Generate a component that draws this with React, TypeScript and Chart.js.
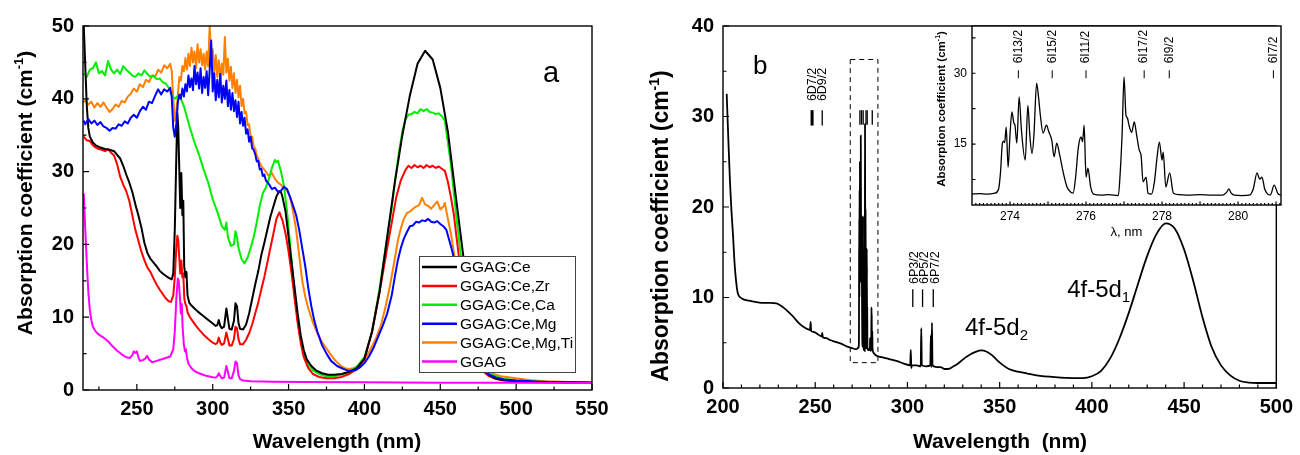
import React, { useEffect, useRef } from 'react';
import { Chart, registerables } from 'chart.js';
Chart.register(...registerables);

const FONT = '"Liberation Sans", Arial, Helvetica, sans-serif';

// ---------------- Panel a : absorption spectra ----------------
const aSeriesLabels = ['GGAG:Ce', 'GGAG:Ce,Zr', 'GGAG:Ce,Ca', 'GGAG:Ce,Mg', 'GGAG:Ce,Mg,Ti', 'GGAG'];
const aSeriesColors = ['#000000', '#ff0000', '#00ee00', '#0000ff', '#ff8000', '#ff00ff'];

const ggagCe: [number, number][] = [
  [215, 50], [216, 44.5], [217, 39], [218, 36], [219, 34.8], [221, 34], [223, 33.6], [226, 33.3], [229, 33.1], [232, 33],
  [235, 32.8], [237, 32.3], [239, 31.8], [241, 30.8], [243, 29.6], [245, 28.5], [247, 27.2], [249, 25.5], [251, 24], [253, 22.3],
  [255, 20.2], [257, 18.8], [259, 18], [261, 17.5], [263, 17], [265, 16.4], [267, 16], [269, 15.7], [271, 15.4], [273, 15.2],
  [274, 16], [275, 22], [276, 32], [276.7, 38], [277.3, 36], [278, 30], [278.6, 25], [279.3, 29.8], [280, 24], [280.6, 26],
  [281.2, 17], [282, 15.5], [282.7, 16.2], [283.4, 13], [284.5, 12], [286, 11.6], [288, 11.2], [290, 10.8], [293, 10.3], [296, 9.8],
  [299, 9.3], [302, 8.8], [303, 8.9], [304, 9.6], [305, 8.8], [306, 8.5], [307.5, 8.7], [309, 11.2], [310, 9.8], [311, 8.4],
  [312.5, 8.3], [314, 9.5], [315, 11.9], [316, 11.5], [317, 9.2], [318, 8.4], [320, 8.3], [322, 9], [324, 10.5], [326, 12.5],
  [328, 14.5], [330, 16.3], [332, 18.5], [334, 20.2], [336, 22], [338, 23.8], [340, 25.2], [342, 26.6], [343, 27], [344, 27.3],
  [345, 27.2], [346, 26.5], [348, 24.5], [350, 21], [352, 17.5], [354, 14], [356, 10.5], [358, 7.5], [360, 5.5], [362, 4.2],
  [365, 3.3], [368, 2.7], [372, 2.3], [376, 2.1], [380, 2.1], [385, 2.2], [390, 2.5], [395, 3], [400, 4.3], [405, 8],
  [410, 13.5], [415, 21], [420, 28.5], [425, 35], [430, 40.5], [435, 44.8], [440, 46.6], [445, 45.4], [450, 41.5], [455, 35.5],
  [460, 27], [463, 22], [466, 17], [470, 10.5], [474, 5.8], [478, 3.2], [482, 2.1], [486, 1.6], [490, 1.4], [500, 1.2],
  [515, 1.1], [530, 1.05], [550, 1.0],
];

const ggagCeZr: [number, number][] = [
  [215, 34.8], [217, 34.3], [219, 34.2], [221, 33.6], [223, 33.3], [225, 33.1], [227, 33], [229, 32.8], [231, 33.1], [233, 32.6],
  [235, 32.2], [237, 31], [239, 29.3], [241, 28.2], [243, 27.3], [245, 26], [247, 24], [249, 22], [251, 20.5], [253, 19],
  [255, 17.8], [257, 16.8], [259, 16.2], [261, 15.3], [263, 14.5], [265, 13.8], [267, 13.2], [269, 12.6], [271, 12.2], [272.5, 12.1],
  [274, 13], [275, 15.5], [276, 19.5], [276.7, 21.2], [277.3, 20.5], [278, 18], [278.6, 16], [279.3, 17.8], [280, 15.5], [280.6, 16],
  [281.3, 12.5], [282, 11.8], [282.7, 11.5], [283.5, 10.6], [285, 10], [287, 9.4], [289, 8.8], [291, 8.3], [294, 7.6], [297, 7],
  [300, 6.5], [302, 6.3], [303, 6.5], [304, 7.2], [305, 6.5], [306, 6.2], [307.5, 6.4], [309, 7.9], [310, 7], [311, 6.1],
  [312.5, 6.1], [314, 7], [315, 8.7], [316, 8.5], [317, 7], [318, 6.3], [320, 6.3], [322, 6.9], [324, 7.8], [326, 9],
  [328, 10.5], [330, 12], [332, 13.8], [334, 15.5], [336, 17.5], [338, 19.5], [340, 21.5], [342, 23.5], [343, 24], [344, 24.4],
  [345, 23.8], [346, 23.3], [348, 21.5], [350, 19], [352, 16], [354, 12.5], [356, 9.2], [358, 6.5], [360, 4.5], [363, 3],
  [366, 2.2], [370, 1.8], [375, 1.6], [380, 1.6], [385, 1.8], [390, 2.2], [395, 2.9], [400, 4.2], [405, 8], [410, 13.5],
  [415, 19.5], [418, 23], [421, 26.5], [424, 28.8], [427, 30.2], [429, 30.8], [431, 30.5], [433, 30.9], [435, 30.6], [437, 30.8],
  [439, 30.5], [441, 30.9], [443, 30.6], [445, 30.8], [447, 30.5], [449, 30.7], [451, 30.4], [453, 30.1], [455, 28.6], [457, 26.5],
  [459, 24], [461, 20.5], [463, 17], [466, 12.5], [469, 8.5], [472, 5.5], [475, 3.6], [478, 2.6], [482, 1.9], [487, 1.5],
  [492, 1.3], [500, 1.15], [520, 1.05], [550, 1.0],
];

const ggagCeCa: [number, number][] = [
  [215, 43.5], [217, 43], [219, 44], [221, 44.2], [223, 45], [225, 43.5], [227, 43.8], [229, 43.2], [231, 45.2], [233, 44],
  [235, 43.5], [237, 44], [239, 43.4], [241, 44.5], [243, 44], [245, 43.6], [247, 43.2], [249, 43], [251, 43.5], [253, 43.2],
  [255, 43.9], [257, 43.4], [259, 43], [261, 43.2], [263, 42.7], [265, 42.8], [267, 42.3], [269, 42.1], [271, 41.5], [273, 40.5],
  [275, 40], [277, 40.4], [279, 40], [281, 39], [283, 37.5], [285, 36], [288, 34], [291, 32.3], [294, 30.3], [297, 28.5],
  [300, 26.2], [303, 24.5], [306, 22.5], [308, 22], [309, 23], [310, 21], [312, 19.8], [314, 20], [315, 21.8], [316, 21],
  [317, 19.5], [319, 18], [321, 17.4], [323, 18.2], [325, 19.5], [327, 21], [329, 23], [331, 25.3], [333, 27], [335, 27.8],
  [337, 29], [339, 30.5], [341, 31.6], [342, 31.3], [343, 31.5], [345, 30], [347, 28], [349, 24.5], [351, 20], [353, 15.5],
  [355, 11.5], [357, 8], [360, 5], [363, 3.5], [366, 2.7], [370, 2.2], [375, 1.9], [380, 1.9], [385, 2.1], [390, 2.5],
  [395, 3.2], [400, 4.5], [405, 8], [410, 14], [415, 21], [418, 25], [420, 28.5], [423, 33], [425, 35.5], [427, 37.2],
  [429, 37.8], [431, 37.9], [433, 38.2], [435, 38], [437, 38.6], [439, 38.3], [441, 38.6], [443, 38.2], [445, 38.1], [447, 37.9],
  [449, 38], [451, 37.6], [453, 37], [455, 34], [457, 31], [459, 27], [461, 23], [463, 19.5], [465, 16], [468, 11.5],
  [471, 7.5], [474, 5], [477, 3.5], [480, 2.7], [485, 2], [490, 1.6], [500, 1.3], [515, 1.15], [530, 1.05], [550, 1.0],
];

const ggagCeMg: [number, number][] = [
  [215, 37], [216, 36.5], [218, 37.2], [220, 36.6], [222, 37], [224, 36.4], [226, 36.8], [228, 36.2], [230, 36], [232, 35.6],
  [234, 36], [236, 35.9], [238, 36.5], [240, 36.3], [242, 36.9], [244, 36.6], [246, 37.4], [248, 37.8], [250, 37.4], [252, 38.3],
  [254, 38.9], [256, 38.5], [258, 39.6], [260, 39.4], [262, 40.4], [264, 41.3], [266, 40.6], [268, 41.3], [270, 41], [272, 41.5],
  [273, 40.2], [274, 36], [275, 34.8], [276, 36.5], [277, 39.5], [278, 40.6], [279, 40], [280, 41.4], [281, 40.3], [282, 42],
  [283, 41], [284, 43.2], [285, 41.6], [286, 42.8], [287, 41.2], [288, 44.5], [289, 42], [290, 43.6], [291, 41.4], [292, 44.2],
  [293, 40.8], [294, 43], [295, 41.5], [296, 43.8], [297, 40.5], [298, 44], [299, 48], [300, 41], [301, 43.5], [302, 39.8],
  [303, 42.6], [304, 40.2], [305, 43.4], [306, 39.5], [307, 41.8], [308, 40], [309, 42.5], [310, 39], [311, 41.2], [312, 38.5],
  [313, 40.8], [314, 38.3], [315, 39.8], [316, 37.5], [317, 39.6], [318, 36.6], [319, 38.2], [320, 36.3], [321, 37.4], [322, 35.2],
  [323, 35.8], [324, 34.1], [325, 34.8], [326, 33.2], [327, 33], [328, 32.4], [329, 31.4], [330, 31.5], [331, 30.3], [332, 30.4],
  [333, 29.4], [334, 29.6], [335, 28.8], [337, 28.3], [339, 27.6], [341, 27.8], [343, 27.2], [345, 27.4], [347, 27.9], [349, 27.6],
  [351, 26.5], [353, 25.3], [355, 24], [357, 22], [359, 19.5], [361, 17], [363, 14], [365, 11.5], [367, 9.5], [369, 8],
  [372, 6.2], [375, 5], [378, 4], [382, 3.3], [386, 2.9], [390, 2.6], [394, 2.7], [397, 3.1], [400, 3.7], [403, 4.6],
  [406, 5.8], [409, 7.3], [412, 8.8], [415, 10.5], [418, 13], [420, 15.5], [422, 17.8], [424, 19.5], [426, 20.8], [428, 21.7],
  [430, 22.5], [432, 22.6], [434, 23.1], [436, 23], [438, 23.3], [440, 23.2], [442, 23.5], [444, 23.1], [446, 23], [448, 23.2],
  [450, 22.8], [452, 22.5], [454, 22], [456, 20.5], [458, 19], [460, 17], [463, 14], [466, 10.5], [469, 7.5], [472, 5.2],
  [475, 3.8], [478, 2.8], [482, 2.1], [487, 1.7], [492, 1.45], [500, 1.3], [515, 1.15], [530, 1.05], [550, 1.0],
];

const ggagCeMgTi: [number, number][] = [
  [215, 39.5], [216, 39.8], [218, 39.2], [220, 39.6], [222, 38.8], [224, 39.4], [226, 38.9], [228, 39.5], [230, 38.8], [232, 38.2],
  [234, 38.6], [236, 39.2], [238, 38.9], [240, 39.7], [242, 39.5], [244, 40.3], [246, 40.7], [248, 41.4], [250, 41], [252, 42],
  [254, 41.6], [256, 42.6], [258, 42.3], [260, 43.2], [262, 43], [264, 44], [266, 43.6], [268, 44.6], [270, 44.2], [272, 44.8],
  [273, 43.8], [274, 40], [275, 37], [276, 38.2], [277, 40.5], [278, 43], [279, 42.5], [280, 44.5], [281, 43.8], [282, 45.6],
  [283, 44], [284, 46.2], [285, 44.5], [286, 47], [287, 45], [288, 46.5], [289, 44.2], [290, 47.5], [291, 45], [292, 46.8],
  [293, 44.6], [294, 46.2], [295, 44], [296, 46.5], [297, 44.5], [298, 50], [299, 45.5], [300, 46.8], [301, 43.5], [302, 46],
  [303, 43], [304, 45.3], [305, 42.6], [306, 44.8], [307, 43.3], [308, 48.5], [309, 43.6], [310, 45.5], [311, 42.5], [312, 44.4],
  [313, 41.5], [314, 43.5], [315, 40.8], [316, 42.6], [317, 40.2], [318, 41.8], [319, 39], [320, 40], [321, 38], [322, 38.2],
  [323, 36.4], [324, 36.5], [325, 34.8], [326, 34.8], [327, 33.4], [328, 33.2], [329, 32.2], [330, 31.8], [331, 31.2], [332, 30.8],
  [333, 30.5], [335, 30], [337, 29.4], [339, 29.8], [341, 29], [343, 28.5], [345, 28.2], [347, 27.6], [349, 27.4], [351, 26.5],
  [353, 24.5], [355, 22], [357, 18.5], [359, 15], [361, 12.8], [363, 11.2], [366, 9.3], [369, 7.8], [372, 6.6], [375, 5.7],
  [378, 4.8], [381, 4], [384, 3.4], [387, 3], [390, 2.9], [393, 3], [396, 3.4], [399, 4], [402, 4.8], [405, 6],
  [408, 7.3], [411, 9], [414, 11.5], [417, 14.5], [420, 18], [422, 20.5], [424, 22.2], [426, 23.5], [428, 24.3], [430, 24.5],
  [432, 24.9], [434, 25.2], [436, 25.4], [438, 26.4], [440, 25.5], [442, 25.3], [444, 24.9], [446, 25.4], [448, 25.9], [450, 24.8],
  [452, 25.2], [453, 25.7], [455, 23.5], [457, 21.5], [459, 18.8], [461, 16], [464, 12], [467, 8.5], [470, 6], [473, 4.3],
  [476, 3.3], [480, 2.7], [485, 2.2], [490, 1.9], [500, 1.6], [510, 1.35], [520, 1.2], [535, 1.1], [550, 1.05],
];

const ggagUndoped: [number, number][] = [
  [215, 27], [216, 22], [217, 17.5], [218, 13.5], [219, 11], [220, 9.6], [221, 8.7], [223, 8], [225, 7.6], [228, 7.2],
  [231, 6.7], [234, 6], [237, 5.4], [240, 4.9], [243, 4.5], [245.5, 4.4], [247, 4.8], [248, 5.3], [249, 5.1], [250, 5.3],
  [251, 4.5], [252, 4], [254, 4.1], [255.5, 4.3], [256.7, 4.7], [258, 4.2], [260, 3.8], [263, 4], [266, 4.2], [269, 4.4],
  [272, 4.6], [274, 5.6], [275, 8], [276, 12.5], [277, 15.3], [277.6, 15], [278.3, 13], [279, 10.5], [279.6, 11.8], [280.2, 8.5],
  [281, 6.2], [281.7, 5.3], [282.3, 5.6], [283, 4.5], [284, 3.6], [286, 3], [288, 2.6], [291, 2.3], [295, 2], [300, 1.75],
  [302, 1.7], [303, 1.9], [304, 2.3], [305, 1.9], [306, 1.6], [307.5, 1.7], [309, 3.3], [310, 2.5], [311, 1.6], [312.5, 1.6],
  [314, 2.6], [315, 3.9], [316, 3.7], [317, 2], [318, 1.5], [320, 1.3], [325, 1.2], [340, 1.15], [360, 1.1], [400, 1.05],
  [450, 1.0], [500, 1.0], [550, 0.95],
];

const aXTicks = [250, 300, 350, 400, 450, 500, 550];
const aYTicks = [0, 10, 20, 30, 40, 50];

// ---------------- Panel b : GGAG:Ce absorption ----------------
const bUvData: [number, number][] = [
  [202, 32.5], [202.8, 28], [203.8, 22.7], [204.6, 19.5], [205.4, 17], [206.2, 14], [207, 12], [208, 10.5], [209.5, 10], [211, 9.8],
  [214, 9.65], [218, 9.5], [222, 9.4], [226, 9.4], [229, 9.35], [232, 9.0], [235, 8.5], [238, 7.9], [241, 7.2], [244, 6.7],
  [246, 6.5], [247.2, 6.4], [247.5, 7.3], [247.8, 6.3], [249, 6.2], [251, 6.0], [253.5, 5.7], [253.8, 6.1], [254.1, 5.6], [256, 5.5],
  [258, 5.3], [261, 5.1], [264, 4.9], [267, 4.6], [270, 4.4], [272, 4.3],
];

// detailed 273-281 nm region (also shown in the inset)
const detailData: [number, number][] = [
  [273.0, 4.4], [273.2, 4.5], [273.4, 4.4], [273.6, 4.6], [273.7, 5.5], [273.75, 9], [273.8, 15.2], [273.83, 15.6], [273.86, 15.3], [273.9, 18.6],
  [273.95, 10.1], [274.0, 17], [274.05, 21.8], [274.1, 19.5], [274.13, 19], [274.18, 15.2], [274.24, 25], [274.3, 18], [274.4, 11.6], [274.47, 23.2],
  [274.52, 17], [274.58, 13], [274.63, 17], [274.7, 27.9], [274.75, 25], [274.8, 21], [274.87, 17.3], [274.96, 19], [275.02, 17.6], [275.1, 15.8],
  [275.16, 12.3], [275.23, 15.2], [275.3, 13], [275.4, 9], [275.5, 5.9], [275.6, 4.8], [275.66, 4.6], [275.72, 7.5], [275.8, 14.4], [275.87, 16.5],
  [275.91, 15.5], [275.95, 19], [276.0, 8.0], [276.05, 9.9], [276.12, 6], [276.2, 4.4], [276.4, 4.2], [276.6, 4.3], [276.85, 4.1], [276.9, 9],
  [276.95, 17.3], [277.0, 29.2], [277.05, 21.2], [277.09, 20.5], [277.13, 19], [277.2, 17.5], [277.27, 19.7], [277.33, 17], [277.4, 13.7], [277.45, 12.5],
  [277.5, 7], [277.58, 8], [277.63, 4.6], [277.72, 4.4], [277.8, 7], [277.87, 12.3], [277.93, 15.4], [278.0, 11.6], [278.03, 13.3], [278.1, 5.9],
  [278.2, 8.9], [278.3, 4.6], [278.45, 4.3], [278.7, 4.2], [279.0, 4.3], [279.3, 4.2], [279.6, 4.2], [279.7, 4.8], [279.76, 5.5], [279.82, 4.6],
  [279.9, 4.2], [280.1, 4.1], [280.3, 4.2], [280.4, 5.5], [280.5, 8.9], [280.57, 7.6], [280.63, 8.0], [280.7, 5.5], [280.78, 4.4], [280.85, 4.2],
  [280.95, 6.3], [281.05, 4.5], [281.13, 4.2],
];

const bVisData: [number, number][] = [
  [282, 3.8], [283, 3.6], [286, 3.4], [290, 3.2], [294, 3.0], [298, 2.7], [301.5, 2.5], [301.8, 4.2], [302.1, 2.2], [302.4, 2.5],
  [305, 2.5], [307.2, 2.4], [307.5, 6.6], [307.8, 2.5], [310, 2.4], [312.4, 2.5], [312.7, 5.8], [313, 2.3], [313.3, 7.2], [313.6, 2.5],
  [316, 2.3], [318, 2.3], [320, 2.1], [322, 2.1], [325, 2.4], [328, 2.8], [331, 3.3], [334, 3.7], [337, 4.0], [340, 4.15],
  [343, 4.0], [346, 3.6], [349, 3.0], [352, 2.5], [355, 2.1], [360, 1.8], [365, 1.6], [370, 1.4], [380, 1.2], [390, 1.1],
  [395, 1.1], [400, 1.3], [405, 1.9], [410, 3.3], [415, 5.5], [420, 8.3], [425, 11.5], [430, 14.6], [435, 17], [440, 18.2],
  [445, 17.6], [450, 15.3], [455, 11.8], [460, 7.8], [465, 4.5], [470, 2.5], [475, 1.4], [480, 0.8], [485, 0.6], [490, 0.55],
  [500, 0.55],
];

const bXTicks = [200, 250, 300, 350, 400, 450, 500];
const bYTicks = [0, 10, 20, 30, 40];
const bDLevels = ['6D7/2', '6D9/2'];
const bDWavelengths = [248.3, 253.8];
const bPLevels = ['6P3/2', '6P5/2', '6P7/2'];
const bPWavelengths = [302.9, 308.2, 314.0];

const insetXTicks = [274, 276, 278, 280];
const insetYTicks = [15, 30];
const insetLevels = ['6I13/2', '6I15/2', '6I11/2', '6I17/2', '6I9/2', '6I7/2'];
const insetLevelWavelengths = [274.22, 275.11, 276.0, 277.53, 278.19, 280.93];

// ---------------- helpers ----------------
type Pt = [number, number];
const toXY = (pts: Pt[]) => pts.map(([x, y]) => ({ x, y }));

function lineDs(label: string, pts: Pt[], color: string, width: number, order: number, smooth = false) {
  return {
    label, data: toXY(pts), borderColor: color, backgroundColor: color, borderWidth: width,
    pointRadius: 0, tension: 0, fill: false, order, spanGaps: true,
    cubicInterpolationMode: smooth ? 'monotone' : 'default',
    borderJoinStyle: 'round',
  };
}

function rangeSteps(min: number, max: number, step: number) {
  const out: number[] = [];
  const n = Math.round((max - min) / step);
  for (let i = 0; i <= n; i++) out.push(+(min + i * step).toFixed(4));
  return out;
}

function drawFrameTicks(chart: any, xMajor: number[], xMinor: number[], yMajor: number[], yMinor: number[], majLen: number, minLen: number, lw: number) {
  const { ctx, chartArea: a, scales } = chart;
  ctx.save();
  ctx.strokeStyle = '#000';
  ctx.lineWidth = lw;
  ctx.strokeRect(a.left, a.top, a.right - a.left, a.bottom - a.top);
  ctx.lineWidth = 1.2;
  ctx.beginPath();
  const tx = (v: number, len: number) => {
    const p = scales.x.getPixelForValue(v);
    if (p < a.left - 0.5 || p > a.right + 0.5) return;
    ctx.moveTo(p, a.bottom); ctx.lineTo(p, a.bottom - len);
  };
  const ty = (v: number, len: number) => {
    const p = scales.y.getPixelForValue(v);
    if (p < a.top - 0.5 || p > a.bottom + 0.5) return;
    ctx.moveTo(a.left, p); ctx.lineTo(a.left + len, p);
  };
  xMajor.forEach((v) => tx(v, majLen));
  xMinor.forEach((v) => tx(v, minLen));
  yMajor.forEach((v) => ty(v, majLen));
  yMinor.forEach((v) => ty(v, minLen));
  ctx.stroke();
  ctx.restore();
}

type Part = { t: string; sup?: boolean; sub?: boolean };

function drawParts(ctx: CanvasRenderingContext2D, parts: Part[], cx: number, cy: number, size: number, weight: string, rotate: boolean, align: 'center' | 'left' = 'center') {
  const main = `${weight} ${size}px ${FONT}`;
  const small = `${weight} ${Math.round(size * 0.62)}px ${FONT}`;
  ctx.save();
  ctx.translate(cx, cy);
  if (rotate) ctx.rotate(-Math.PI / 2);
  ctx.fillStyle = '#000';
  ctx.textAlign = 'left';
  ctx.textBaseline = 'alphabetic';
  const widths = parts.map((p) => { ctx.font = p.sup || p.sub ? small : main; return ctx.measureText(p.t).width; });
  const total = widths.reduce((s, w) => s + w, 0);
  let x = align === 'center' ? -total / 2 : 0;
  const base = align === 'center' ? size * 0.36 : 0;
  parts.forEach((p, i) => {
    ctx.font = p.sup || p.sub ? small : main;
    const dy = p.sup ? -size * 0.42 : p.sub ? size * 0.22 : 0;
    ctx.fillText(p.t, x, base + dy);
    x += widths[i];
  });
  ctx.restore();
}

function vText(ctx: CanvasRenderingContext2D, text: string, x: number, yBottom: number, size: number) {
  ctx.save();
  ctx.translate(x, yBottom);
  ctx.rotate(-Math.PI / 2);
  ctx.font = `${size}px ${FONT}`;
  ctx.fillStyle = '#000';
  ctx.textAlign = 'left';
  ctx.textBaseline = 'middle';
  ctx.fillText(text, 0, 0);
  ctx.restore();
}

function baseOptions(o: any) {
  return {
    animation: false,
    responsive: false,
    maintainAspectRatio: false,
    events: [],
    layout: { padding: o.padding },
    plugins: { legend: { display: false }, tooltip: { enabled: false }, title: { display: false } },
    scales: {
      x: {
        type: 'linear', min: o.xMin, max: o.xMax,
        grid: { display: false, drawTicks: false }, border: { display: false },
        afterBuildTicks: (s: any) => { s.ticks = o.xTicks.map((v: number) => ({ value: v })); },
        afterFit: (s: any) => { s.height = o.xHeight; },
        ticks: { font: o.tickFont, color: '#000', padding: o.xPad, maxRotation: 0, autoSkip: false, callback: (v: any) => String(v) },
      },
      y: {
        type: 'linear', min: o.yMin, max: o.yMax,
        grid: { display: false, drawTicks: false }, border: { display: false },
        afterBuildTicks: (s: any) => { s.ticks = o.yTicks.map((v: number) => ({ value: v })); },
        afterFit: (s: any) => { s.width = o.yWidth; },
        ticks: { font: o.tickFont, color: '#000', padding: o.yPad, autoSkip: false, callback: (v: any) => String(v) },
      },
    },
  };
}

const App = () => {
  const aRef = useRef<HTMLCanvasElement>(null);
  const bRef = useRef<HTMLCanvasElement>(null);
  const iRef = useRef<HTMLCanvasElement>(null);

  useEffect(() => {
    document.body.style.margin = '0';
    const charts: Chart[] = [];
    const tickFont = { family: FONT, size: 20, weight: 'bold' };

    // ----- panel a -----
    const aSeries = [ggagCe, ggagCeZr, ggagCeCa, ggagCeMg, ggagCeMgTi, ggagUndoped];
    const aOrder = [3, 4, 5, 2, 6, 1];
    const aPlugin = {
      id: 'aDecor',
      afterDraw(chart: any) {
        const { ctx } = chart;
        drawFrameTicks(chart, aXTicks, rangeSteps(225, 525, 50), aYTicks, rangeSteps(5, 45, 10), 6, 3.5, 1.4);
        // legend
        ctx.save();
        ctx.fillStyle = '#fff';
        ctx.fillRect(419, 256, 156, 116);
        ctx.strokeStyle = '#444';
        ctx.lineWidth = 1;
        ctx.strokeRect(419.5, 256.5, 156, 116);
        ctx.font = `15.5px ${FONT}`;
        ctx.textBaseline = 'middle';
        ctx.textAlign = 'left';
        aSeriesLabels.forEach((lab, i) => {
          const y = 267 + i * 18.9;
          ctx.strokeStyle = aSeriesColors[i];
          ctx.lineWidth = 2.5;
          ctx.beginPath(); ctx.moveTo(422, y); ctx.lineTo(457, y); ctx.stroke();
          ctx.fillStyle = '#000';
          ctx.fillText(lab, 460, y + 1);
        });
        ctx.font = `29px ${FONT}`;
        ctx.textBaseline = 'alphabetic';
        ctx.fillText('a', 543, 82);
        ctx.restore();
        drawParts(ctx, [{ t: 'Absorption coefficient (cm' }, { t: '-1', sup: true }, { t: ')' }], 24, 193, 21, 'bold', true);
        drawParts(ctx, [{ t: 'Wavelength (nm)' }], 337, 440, 21, 'bold', false);
      },
    };
    const cfgA: any = {
      type: 'line',
      data: { datasets: aSeries.map((s, i) => lineDs(aSeriesLabels[i], s, aSeriesColors[i], 2, aOrder[i])) },
      options: baseOptions({
        padding: { left: 0, top: 26, right: 48, bottom: 0 },
        xMin: 214.5, xMax: 550, yMin: 0, yMax: 50, xTicks: aXTicks, yTicks: aYTicks,
        xHeight: 65, yWidth: 83, tickFont, xPad: 7, yPad: 9,
      }),
      plugins: [aPlugin],
    };
    charts.push(new Chart(aRef.current as HTMLCanvasElement, cfgA));

    // ----- panel b -----
    const bAll = [...bUvData, ...detailData, ...bVisData];
    const bPlugin = {
      id: 'bDecor',
      afterDraw(chart: any) {
        const { ctx, scales } = chart;
        const X = (v: number) => scales.x.getPixelForValue(v);
        const Y = (v: number) => scales.y.getPixelForValue(v);
        drawFrameTicks(chart, bXTicks, rangeSteps(210, 490, 10).filter((v) => v % 50 !== 0), bYTicks, rangeSteps(5, 35, 10), 6, 3.5, 1.4);
        ctx.save();
        // dashed box around 273-283 nm lines
        ctx.strokeStyle = '#000';
        ctx.lineWidth = 1;
        ctx.setLineDash([5, 4]);
        ctx.strokeRect(X(269), Y(36.3), X(284) - X(269), Y(2.8) - Y(36.3));
        ctx.setLineDash([]);
        // 6D level markers
        bDLevels.forEach((lab, i) => {
          const x = X(bDWavelengths[i]);
          ctx.lineWidth = i === 0 ? 3 : 1.3;
          ctx.beginPath(); ctx.moveTo(x, Y(30.7)); ctx.lineTo(x, Y(29.0)); ctx.stroke();
          vText(ctx, lab, x + 0.5, Y(31.7), 12.5);
        });
        // group markers for 6I levels
        ctx.lineWidth = 1.3;
        insetLevelWavelengths.forEach((w) => {
          const x = X(w);
          ctx.beginPath(); ctx.moveTo(x, Y(30.7)); ctx.lineTo(x, Y(29.1)); ctx.stroke();
        });
        // 6P level markers
        bPLevels.forEach((lab, i) => {
          const x = X(bPWavelengths[i]);
          ctx.beginPath(); ctx.moveTo(x, Y(10.9)); ctx.lineTo(x, Y(8.95)); ctx.stroke();
          vText(ctx, lab, x + 2, Y(11.5), 12.5);
        });
        ctx.font = `26px ${FONT}`;
        ctx.fillStyle = '#000';
        ctx.textBaseline = 'alphabetic';
        ctx.fillText('b', 753 - 640, 74);
        ctx.restore();
        drawParts(ctx, [{ t: '4f-5d' }, { t: '2', sub: true }], X(331.2), Y(5.86), 24, 'normal', false, 'left');
        drawParts(ctx, [{ t: '4f-5d' }, { t: '1', sub: true }], X(386.6), Y(10.05), 24, 'normal', false, 'left');
        drawParts(ctx, [{ t: 'Absorption coefficient (cm' }, { t: '-1', sup: true }, { t: ')' }], 660 - 640, 226, 23, 'bold', true);
        drawParts(ctx, [{ t: 'Wavelength  (nm)' }], 1000 - 640, 440, 21, 'bold', false);
      },
    };
    const cfgB: any = {
      type: 'line',
      data: { datasets: [lineDs('GGAG:Ce', bAll, '#000', 1.8, 1, true)] },
      options: baseOptions({
        padding: { left: 0, top: 26, right: 19, bottom: 0 },
        xMin: 200, xMax: 500, yMin: 0, yMax: 40, xTicks: bXTicks, yTicks: bYTicks,
        xHeight: 67, yWidth: 83, tickFont, xPad: 7, yPad: 9,
      }),
      plugins: [bPlugin],
    };
    charts.push(new Chart(bRef.current as HTMLCanvasElement, cfgB));

    // ----- inset -----
    const iPlugin = {
      id: 'iDecor',
      beforeDraw(chart: any) {
        const { ctx, chartArea: a } = chart;
        ctx.save();
        ctx.fillStyle = '#fff';
        ctx.fillRect(a.left, a.top, a.right - a.left, a.bottom - a.top);
        ctx.restore();
      },
      afterDraw(chart: any) {
        const { ctx, scales } = chart;
        const X = (v: number) => scales.x.getPixelForValue(v);
        const Y = (v: number) => scales.y.getPixelForValue(v);
        drawFrameTicks(chart, rangeSteps(274, 281, 1), rangeSteps(273.1, 281.1, 0.1), rangeSteps(7.5, 37.5, 7.5), [], 3.5, 2, 1.4);
        ctx.save();
        ctx.strokeStyle = '#000';
        ctx.lineWidth = 1;
        insetLevels.forEach((lab, i) => {
          const x = X(insetLevelWavelengths[i]);
          ctx.beginPath(); ctx.moveTo(x, Y(30.63)); ctx.lineTo(x, Y(28.94)); ctx.stroke();
          vText(ctx, lab, x, Y(32.1), 12);
        });
        ctx.font = `13px ${FONT}`;
        ctx.fillStyle = '#000';
        ctx.textAlign = 'center';
        ctx.textBaseline = 'middle';
        ctx.fillText('\u03bb, nm', (chart.chartArea.left + chart.chartArea.right) / 2, 232);
        ctx.restore();
        drawParts(ctx, [{ t: 'Absorption coefficient (cm' }, { t: '-1', sup: true }, { t: ')' }], 941 - 900, 109, 11.5, 'bold', true);
      },
    };
    const cfgI: any = {
      type: 'line',
      data: { datasets: [lineDs('detail', detailData, '#000', 1.3, 1, true)] },
      options: baseOptions({
        padding: { left: 0, top: 26, right: 19, bottom: 0 },
        xMin: 273, xMax: 281.13, yMin: 2.1, yMax: 40, xTicks: insetXTicks, yTicks: insetYTicks,
        xHeight: 45, yWidth: 72, tickFont: { family: FONT, size: 12, weight: 'normal' }, xPad: 4, yPad: 5,
      }),
      plugins: [iPlugin],
    };
    charts.push(new Chart(iRef.current as HTMLCanvasElement, cfgI));

    return () => charts.forEach((c) => c.destroy());
  }, []);

  return (
    <div style={{ position: 'relative', width: 1300, height: 455, background: '#fff', overflow: 'hidden' }}>
      <canvas ref={aRef} width={640} height={455} style={{ position: 'absolute', left: 0, top: 0 }} />
      <canvas ref={bRef} width={660} height={455} style={{ position: 'absolute', left: 640, top: 0 }} />
      <canvas ref={iRef} width={400} height={250} style={{ position: 'absolute', left: 900, top: 0 }} />
    </div>
  );
};

export default App;
